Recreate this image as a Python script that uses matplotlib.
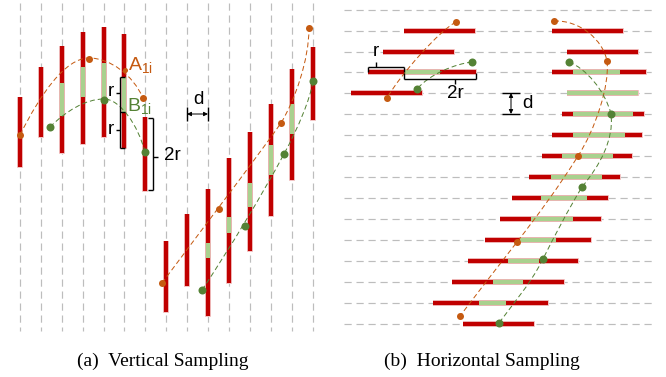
import matplotlib
matplotlib.use("Agg")
import matplotlib.pyplot as plt
from matplotlib.path import Path
from matplotlib.patches import PathPatch

plt.rcParams['font.family'] = ['Liberation Sans', 'DejaVu Sans']
plt.rcParams['mathtext.fontset'] = 'custom'
plt.rcParams['mathtext.rm'] = 'Liberation Sans'

RED = '#C00000'
HALO = '#F2C4C4'
LGREEN = '#A9D18E'
ORANGE = '#C55A11'
DGREEN = '#548235'
GRID = '#BDBDBD'

# ---------------- data (diagram units = pixels) ----------------
v_grid = [20, 41, 62, 83, 104, 124, 145, 166, 187, 208, 229, 250, 271, 292, 313]
h_grid = [10, 31, 52, 72, 93, 114, 135, 156, 177, 198, 219, 240, 261, 282, 303, 324]

# vertical sampling bars: x, top, bottom
vbar_x = [20, 41, 62, 83, 104, 124, 145, 166, 187, 208, 229, 250, 271, 292, 313]
vbar_top = [97, 67, 46, 32, 27, 34, 117, 241, 214, 189, 158, 132, 104, 69, 47]
vbar_bot = [167, 137, 153, 144, 137, 148, 191, 312, 286, 316, 283, 251, 216, 180, 120]
# green overlaps: x, top, bottom
vgreen_x = [62, 83, 104, 124, 208, 229, 250, 271, 292]
vgreen_top = [83, 67, 63, 77, 243, 217, 183, 145, 104]
vgreen_bot = [116, 97, 99, 113, 258, 233, 207, 175, 134]

# horizontal sampling bars: y, left, right
hbar_y = [31, 52, 72, 93,
          31, 52, 72, 93, 114, 135, 156, 177, 198, 219, 240, 261, 282, 303, 324]
hbar_l = [404, 383, 368, 351,
          552, 567, 552, 567, 562, 552, 542, 529, 512, 500, 485, 468, 452, 433, 463]
hbar_r = [475, 454, 476, 422,
          623, 638, 646, 638, 644, 642, 632, 620, 608, 601, 591, 578, 564, 548, 534]
hgreen_y = [72, 72, 93, 114, 135, 156, 177, 198, 219, 240, 261, 282, 303]
hgreen_l = [404, 573, 567, 573, 573, 562, 551, 541, 531, 520, 508, 493, 479]
hgreen_r = [440, 620, 638, 633, 625, 613, 602, 587, 573, 556, 539, 523, 506]

# sample points
orange_x = [20, 89, 143, 162, 219, 281, 309, 456, 387, 554, 607, 578, 517, 460]
orange_y = [135, 59, 98, 283, 209, 123, 28, 22, 98, 21, 61, 156, 242, 316]
green_x = [50, 104, 145, 202, 245, 284, 313, 472, 417, 569, 611, 582, 543, 499]
green_y = [127, 100, 152, 290, 226, 154, 81, 62, 89, 62, 114, 187, 259, 323]
small_orange = (125, 70)

# curve shapes (cubic Bezier: start, c1, c2, end, c1, c2, end ...)
orange_curves = [
    [(20, 135), (40, 95), (65, 58), (89, 58), (110, 58), (133, 75), (143, 98)],
    [(162, 283), (200, 232), (255, 160), (281, 123), (295, 100), (309, 60), (309, 28)],
    [(456, 22), (440, 30), (400, 75), (387, 98)],
    [(554, 21), (580, 20), (603, 40), (607, 61), (610, 85), (595, 130), (578, 156),
     (560, 185), (538, 215), (517, 242), (497, 268), (475, 296), (460, 316)],
]
green_curves = [
    [(50, 127), (65, 112), (85, 99), (104, 99), (120, 99), (138, 125), (145, 152)],
    [(202, 290), (230, 248), (262, 195), (284, 154), (298, 128), (310, 100), (313, 81)],
    [(472, 62), (455, 64), (430, 74), (417, 89)],
    [(569, 62), (585, 68), (605, 90), (611, 114), (614, 140), (600, 165), (582, 187),
     (568, 210), (555, 235), (543, 259), (530, 285), (512, 305), (499, 323)],
]

captions = ['(a)  Vertical Sampling', '(b)  Horizontal Sampling']
caption_x = [163, 482]

# ---------------- drawing ----------------
fig = plt.figure(figsize=(6.66, 3.77), dpi=100)
ax = fig.add_axes([0, 0, 1, 1])
ax.set_xlim(0, 666)
ax.set_ylim(377, 0)
ax.axis('off')

PX = 0.72  # points per pixel

ax.vlines(v_grid, 3, 331, colors=GRID, linewidth=1.2 * PX,
          linestyles=(0, (6, 4)), zorder=1)
ax.hlines(h_grid, 344, 652, colors=GRID, linewidth=1.2 * PX,
          linestyles=(0, (6, 4)), zorder=1)

# vertical bars
ax.vlines(vbar_x, [t - 0.5 for t in vbar_top], [b + 0.5 for b in vbar_bot],
          colors=HALO, linewidth=5.8 * PX, zorder=2, capstyle='butt')
ax.vlines(vbar_x, vbar_top, vbar_bot, colors=RED, linewidth=4.2 * PX,
          zorder=2.1, capstyle='butt')
ax.vlines(vgreen_x, vgreen_top, vgreen_bot, colors=LGREEN, linewidth=4.2 * PX,
          zorder=2.2, capstyle='butt')

# horizontal bars
ax.hlines(hbar_y, [l - 0.5 for l in hbar_l], [r + 0.5 for r in hbar_r],
          colors=HALO, linewidth=5.8 * PX, zorder=2, capstyle='butt')
ax.hlines(hbar_y, hbar_l, hbar_r, colors=RED, linewidth=4.2 * PX,
          zorder=2.1, capstyle='butt')
ax.hlines(hgreen_y, hgreen_l, hgreen_r, colors=LGREEN, linewidth=4.2 * PX,
          zorder=2.2, capstyle='butt')


def bezier(pts, color):
    codes = [Path.MOVETO] + [Path.CURVE4] * (len(pts) - 1)
    patch = PathPatch(Path(pts, codes), facecolor='none', edgecolor=color,
                      linewidth=1.0 * PX, linestyle=(0, (5, 3)), zorder=3)
    ax.add_patch(patch)


for c in orange_curves:
    bezier(c, ORANGE)
for c in green_curves:
    bezier(c, DGREEN)

ax.plot(orange_x, orange_y, 'o', color=ORANGE, markersize=7 * PX,
        markeredgewidth=0, zorder=4)
ax.plot(green_x, green_y, 'o', color=DGREEN, markersize=8 * PX,
        markeredgewidth=0, zorder=4)
ax.plot([small_orange[0]], [small_orange[1]], 'o', color=ORANGE,
        markersize=5 * PX, markeredgewidth=0, zorder=4)

# ---------------- annotations ----------------
K = dict(color='black', linewidth=1.4 * PX, solid_capstyle='butt', zorder=5)


def lines(segs):
    for (x0, y0), (x1, y1) in segs:
        ax.plot([x0, x1], [y0, y1], **K)


# left panel "r" braces
lines([((120, 77), (120, 148)), ((120, 77), (125, 77)), ((120, 112), (125, 112)),
       ((120, 148), (125, 148)), ((116, 93), (120, 93)), ((116, 130), (120, 130))])
# "2r" brace
lines([((153, 118), (153, 190)), ((148, 118), (153, 118)), ((148, 190), (153, 190)),
       ((153, 157), (158, 157))])
# "d" arrow
lines([((187, 107), (187, 121)), ((208, 107), (208, 121))])
ax.annotate('', xy=(187, 114), xytext=(208, 114),
            arrowprops=dict(arrowstyle='<|-|>', color='black', lw=1.0 * PX,
                            mutation_scale=6, shrinkA=0, shrinkB=0), zorder=5)

LS = 13.5
ax.text(111, 91, 'r', fontsize=LS, ha='center', va='center')
ax.text(111, 129, 'r', fontsize=LS, ha='center', va='center')
ax.text(172, 156, '2r', fontsize=LS, ha='center', va='center')
ax.text(198, 99, 'd', fontsize=LS, ha='center', va='center')
ax.text(128, 66, r'A$_{\mathregular{1i}}$', fontsize=14, color=ORANGE,
        ha='left', va='center')
ax.text(127, 107, r'B$_{\mathregular{1i}}$', fontsize=14, color=DGREEN,
        ha='left', va='center')

# right panel braces
lines([((368, 67), (404, 67)), ((368, 67), (368, 72)), ((404, 67), (404, 72)),
       ((376, 62), (376, 67))])
lines([((404, 79), (476, 79)), ((404, 73), (404, 79)), ((476, 73), (476, 79)),
       ((455, 79), (455, 84))])
ax.text(376, 51, 'r', fontsize=LS, ha='center', va='center')
ax.text(455, 93, '2r', fontsize=LS, ha='center', va='center')

# vertical "d"
lines([((502, 93), (520, 93)), ((502, 114), (520, 114))])
ax.annotate('', xy=(511, 93), xytext=(511, 114),
            arrowprops=dict(arrowstyle='<|-|>', color='black', lw=1.0 * PX,
                            mutation_scale=6, shrinkA=0, shrinkB=0), zorder=5)
ax.text(527, 104, 'd', fontsize=LS, ha='center', va='center')

for cx, txt in zip(caption_x, captions):
    ax.text(cx, 361, txt, fontsize=14, ha='center', va='center',
            family=['Liberation Serif', 'DejaVu Serif'])

fig.savefig('out.png', dpi=100)
